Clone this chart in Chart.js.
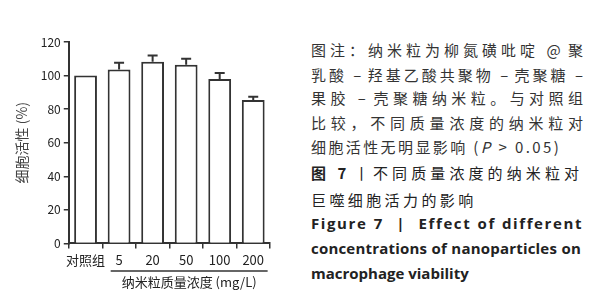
<!DOCTYPE html>
<html>
<head>
<meta charset="utf-8">
<script src="https://cdn.jsdelivr.net/npm/chart.js@4"></script>
<style>
  body { margin: 0; background: #fff; }
  #wrap { position: relative; width: 608px; height: 300px; overflow: hidden; }
  #chartBox { position: absolute; left: 0; top: 0; width: 290px; height: 300px; }
  .cap { position: absolute; left: 311px; width: 272px; white-space: nowrap; color: #333;
         font-family: "Noto Sans CJK SC", sans-serif; font-size: 15px; line-height: 20px; }
  .just { text-align: justify; text-align-last: justify; }
  .en { font-family: "Open Sans", sans-serif; font-weight: bold; font-size: 15px; color: #222; }
  .fig { color: #222; }
</style>
</head>
<body>
<div id="wrap">
  <div id="chartBox"><canvas id="viabilityChart"></canvas></div>
  <div class="cap just" style="top:40px">图注：纳米粒为柳氮磺吡啶 @ 聚</div>
  <div class="cap just" style="top:65px">乳酸 – 羟基乙酸共聚物 – 壳聚糖 –</div>
  <div class="cap just" style="top:88px">果胶 – 壳聚糖纳米粒。与对照组</div>
  <div class="cap just" style="top:113px">比较，不同质量浓度的纳米粒对</div>
  <div class="cap" style="top:137px;letter-spacing:2.4px">细胞活性无明显影响 (<i>P</i> &gt; 0.05)</div>
  <div class="cap just fig" style="top:163px;width:268px"><b>图 7</b> 丨不同质量浓度的纳米粒对</div>
  <div class="cap fig" style="top:190px;letter-spacing:3.4px">巨噬细胞活力的影响</div>
  <div class="cap just en" style="top:213px;letter-spacing:1.6px">Figure 7 &nbsp;| &nbsp;Effect of different</div>
  <div class="cap just en" style="top:238px;width:270px;letter-spacing:0.2px">concentrations of nanoparticles on</div>
  <div class="cap en" style="top:263px">macrophage viability</div>
</div>
<script>
var groups = ['对照组', '5', '20', '50', '100', '200'];
var viability = [100, 103.6, 108.2, 106.4, 98, 85.4];
var viabilityErr = [0, 4, 3.8, 3.6, 3.6, 2];
var yTicks = [0, 20, 40, 60, 80, 100, 120];

var inkColor = '#333';
var cjkFont = '"Noto Sans CJK SC", sans-serif';

// error bars on top of each bar + bracket with the concentration title
var errorBarPlugin = {
    id: 'errorBars',
    afterDatasetsDraw: function(chart) {
        var ctx = chart.ctx;
        var yScale = chart.scales.y;
        var meta = chart.getDatasetMeta(0);
        ctx.save();
        ctx.strokeStyle = inkColor;
        ctx.lineWidth = 2;
        meta.data.forEach(function(bar, i) {
            var err = viabilityErr[i];
            if (!err) return;
            var yTop = yScale.getPixelForValue(viability[i] + err);
            ctx.beginPath();
            ctx.moveTo(bar.x, bar.y);
            ctx.lineTo(bar.x, yTop);
            ctx.moveTo(bar.x - 5, yTop);
            ctx.lineTo(bar.x + 5, yTop);
            ctx.stroke();
        });
        // bracket under 5..200
        var first = meta.data[1], last = meta.data[meta.data.length - 1];
        var lineY = chart.scales.x.bottom - 1;
        var x1 = first.x - first.width / 2 + 3;
        var x2 = last.x + last.width / 2 + 3;
        ctx.lineWidth = 1.5;
        ctx.beginPath();
        ctx.moveTo(x1, lineY);
        ctx.lineTo(x2, lineY);
        ctx.stroke();
        ctx.fillStyle = '#222';
        ctx.font = '13px ' + cjkFont;
        ctx.textAlign = 'center';
        ctx.textBaseline = 'middle';
        ctx.fillText('纳米粒质量浓度 (mg/L)', (x1 + x2) / 2, lineY + 11);
        ctx.restore();
    }
};

var viabilityCtx = document.getElementById('viabilityChart').getContext('2d');
var viabilityChart = new Chart(viabilityCtx, {
    type: 'bar',
    data: {
        labels: groups,
        datasets: [{
            data: viability,
            backgroundColor: '#fff',
            borderColor: inkColor,
            borderWidth: 2,
            borderSkipped: 'bottom',
            barPercentage: 0.68,
            categoryPercentage: 1
        }]
    },
    options: {
        responsive: true,
        maintainAspectRatio: false,
        animation: false,
        layout: { padding: { top: 42, right: 20, bottom: 28, left: 13 } },
        plugins: {
            legend: { display: false },
            tooltip: { enabled: false }
        },
        scales: {
            x: {
                grid: { display: true, drawOnChartArea: false, drawTicks: true, tickLength: 5, color: inkColor, lineWidth: 1.5 },
                border: { color: inkColor, width: 2 },
                ticks: { color: '#222', padding: 4, maxRotation: 0, autoSkip: false, font: { size: 13, family: cjkFont } }
            },
            y: {
                min: 0,
                max: 120,
                afterBuildTicks: function(axis) {
                    axis.ticks = yTicks.map(function(v) { return { value: v }; });
                },
                grid: { display: true, drawOnChartArea: false, drawTicks: true, tickLength: 5, color: inkColor, lineWidth: 1.5 },
                border: { color: inkColor, width: 2 },
                ticks: { color: '#222', padding: 3, font: { size: 12, family: cjkFont } },
                title: {
                    display: true,
                    text: '细胞活性 (%)',
                    color: '#444',
                    padding: { top: 0, bottom: 8 },
                    font: { size: 14, family: cjkFont }
                }
            }
        }
    },
    plugins: [errorBarPlugin]
});
</script>
</body>
</html>
